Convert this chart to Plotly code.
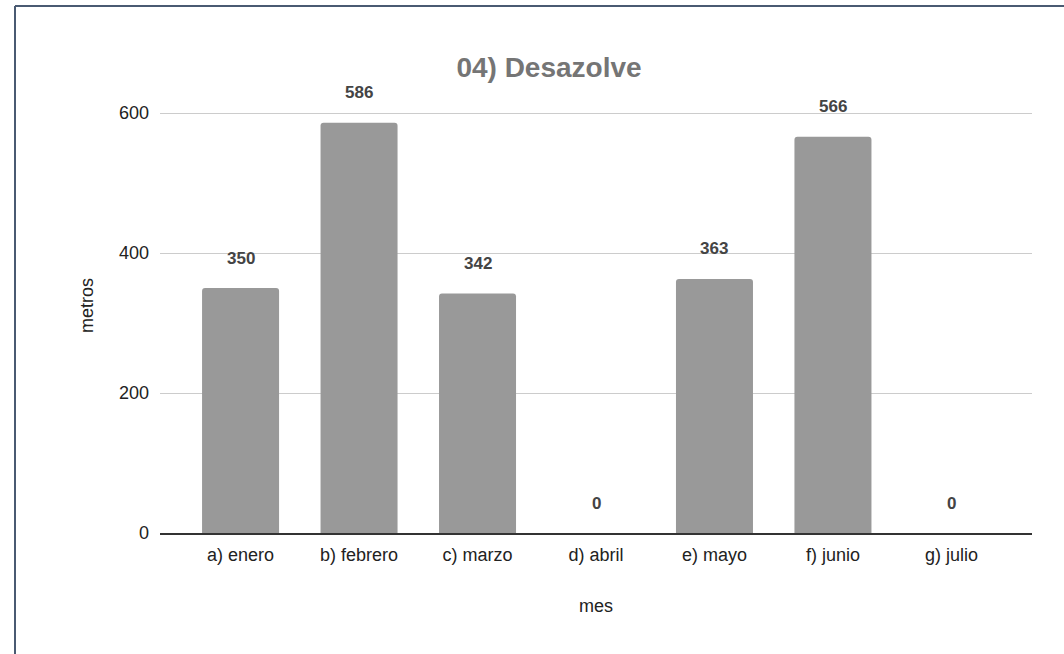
import plotly.graph_objects as go

categories = ["a) enero", "b) febrero", "c) marzo", "d) abril", "e) mayo", "f) junio", "g) julio"]
values = [350, 586, 342, 0, 363, 566, 0]
y_ticks = [0, 200, 400, 600]

W, H = 1064, 654
L, R, T, B = 160, 32, 78, 121
pw, ph = W - L - R, H - T - B

fig = go.Figure()
fig.add_trace(go.Bar(
    x=list(range(len(categories))), y=values,
    marker=dict(color="#999999", line=dict(width=0), cornerradius=3),
    hoverinfo="x+y",
))

for i, v in enumerate(values):
    fig.add_annotation(x=i, y=v, text=f"<b>{v}</b>", showarrow=False,
                       yshift=30, font=dict(size=17, color="#444444"))

# outer frame (top and left edges)
def px2x(px):
    return (px - L) / pw

def py2y(py):
    return (H - B - py) / ph

fig.add_shape(type="line", xref="paper", yref="paper",
              x0=px2x(15), x1=px2x(W + 5), y0=py2y(6), y1=py2y(6),
              line=dict(color="#4a5a72", width=2))
fig.add_shape(type="line", xref="paper", yref="paper",
              x0=px2x(15), x1=px2x(15), y0=py2y(6), y1=py2y(H + 5),
              line=dict(color="#4a5a72", width=2))

fig.update_layout(
    width=W, height=H,
    margin=dict(l=L, r=R, t=T, b=B),
    paper_bgcolor="white", plot_bgcolor="white",
    font=dict(family="Liberation Sans, Arial, sans-serif", size=18, color="#222222"),
    title=dict(text="<b>04) Desazolve</b>", x=549 / W, xanchor="center",
               y=1 - 67 / H, yanchor="middle",
               font=dict(size=28, color="#757575")),
    bargap=0.35,
    showlegend=False,
    xaxis=dict(
        tickmode="array", tickvals=list(range(len(categories))), ticktext=categories,
        range=[-0.68, 6.68], showgrid=False, zeroline=False,
        showline=True, linecolor="#333333", linewidth=2,
        ticks="", ticklabelstandoff=4,
        title=dict(text="mes", font=dict(size=18, color="#222222"), standoff=36),
    ),
    yaxis=dict(
        range=[0, 650], tickmode="array", tickvals=y_ticks,
        showgrid=True, gridcolor="#cccccc", gridwidth=1,
        zeroline=False, showline=False, ticks="", ticklabelstandoff=10,
        title=dict(text="metros", font=dict(size=18, color="#222222"), standoff=20),
    ),
)

fig.write_html("out.html", config={"displayModeBar": False},
               post_script="document.body.style.margin='0';")
